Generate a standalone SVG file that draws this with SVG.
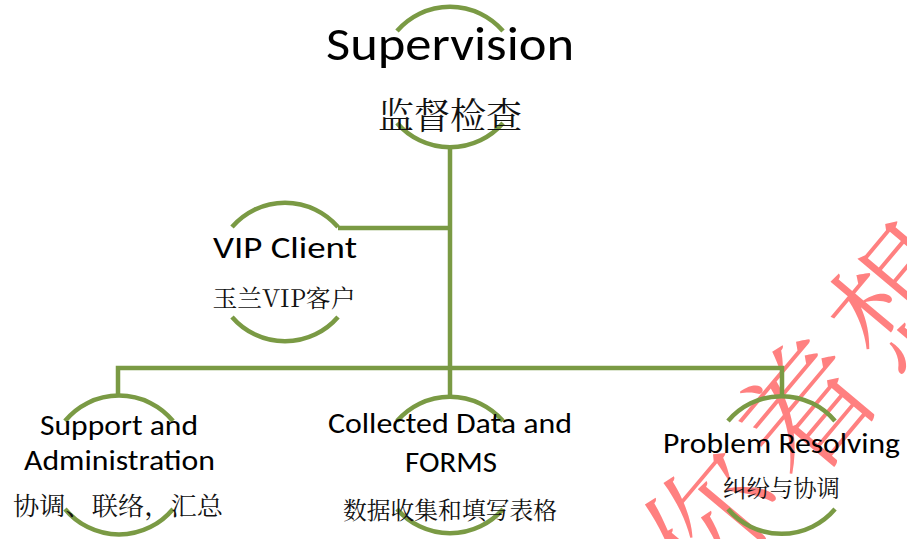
<svg xmlns="http://www.w3.org/2000/svg" width="907" height="539" viewBox="0 0 907 539">
<style>
.arc{fill:none;stroke:#7A9A44;stroke-width:4.5;stroke-linecap:butt}
.ln{fill:none;stroke:#7A9A44;stroke-width:4.5;stroke-linejoin:miter}
.en{font-family:Carlito,Lato,"Liberation Sans",sans-serif;font-weight:300;fill:#000;text-anchor:middle}
.cn{font-family:"Noto Serif CJK SC","Noto Sans CJK SC",sans-serif;fill:#111;text-anchor:middle}
.wm{font-family:"Noto Serif CJK SC","Noto Sans CJK SC",serif;font-weight:300;fill:#FF8080;font-size:132px;letter-spacing:14px}
</style>
<rect width="907" height="539" fill="#fff"/>
<g id="watermark">
<text class="wm" transform="translate(714,522) rotate(-50)" x="-66" y="46">你着想</text>
</g>
<g id="connectors">
<path class="ln" d="M450,146 V370"/>
<path class="ln" d="M338,228 H450"/>
<path class="ln" d="M118,395 V368 H782 V395"/>
<path class="ln" d="M450,368 V395"/>
</g>
<g id="supervision">
<path class="arc" d="M397,31 A70,70 0 0 1 503,31"/>
<path class="arc" d="M503,123 A70,70 0 0 1 397,123"/>
<text class="en" x="450" y="60" font-size="48" textLength="248" lengthAdjust="spacingAndGlyphs">Supervision</text>
<text class="cn" x="450" y="129" font-size="36" textLength="144" lengthAdjust="spacingAndGlyphs">监督检查</text>
</g>
<g id="vip-client">
<path class="arc" d="M232,227 A70,70 0 0 1 338,227"/>
<path class="arc" d="M338,317 A70,70 0 0 1 232,317"/>
<text class="en" x="285" y="258" font-size="30" textLength="144" lengthAdjust="spacingAndGlyphs">VIP Client</text>
<text class="cn" x="284" y="307" font-size="24" textLength="143" lengthAdjust="spacingAndGlyphs">玉兰VIP客户</text>
</g>
<g id="support">
<path class="arc" d="M65,421 A70,70 0 0 1 173,421"/>
<path class="arc" d="M173,509 A70,70 0 0 1 65,509"/>
<text class="en" x="119" y="435" font-size="28" textLength="158" lengthAdjust="spacingAndGlyphs">Support and</text>
<text class="en" x="119.5" y="470" font-size="28" textLength="191" lengthAdjust="spacingAndGlyphs">Administration</text>
<text class="cn" x="118" y="515" font-size="25" textLength="210" lengthAdjust="spacingAndGlyphs">协调、联络，汇总</text>
</g>
<g id="collected">
<path class="arc" d="M397,421 A70,70 0 0 1 503,421"/>
<path class="arc" d="M503,509 A70,70 0 0 1 397,509"/>
<text class="en" x="450" y="433" font-size="28" textLength="244" lengthAdjust="spacingAndGlyphs">Collected Data and</text>
<text class="en" x="451" y="472" font-size="28" textLength="92" lengthAdjust="spacingAndGlyphs">FORMS</text>
<text class="cn" x="450" y="519" font-size="23.5" textLength="214" lengthAdjust="spacingAndGlyphs">数据收集和填写表格</text>
</g>
<g id="problem">
<path class="arc" d="M728,421 A70,70 0 0 1 835,421"/>
<path class="arc" d="M835,509 A70,70 0 0 1 728,509"/>
<text class="en" x="781.5" y="453" font-size="28" textLength="237" lengthAdjust="spacingAndGlyphs">Problem Resolving</text>
<text class="cn" x="781.5" y="497" font-size="23.5" textLength="117" lengthAdjust="spacingAndGlyphs">纠纷与协调</text>
</g>
</svg>
